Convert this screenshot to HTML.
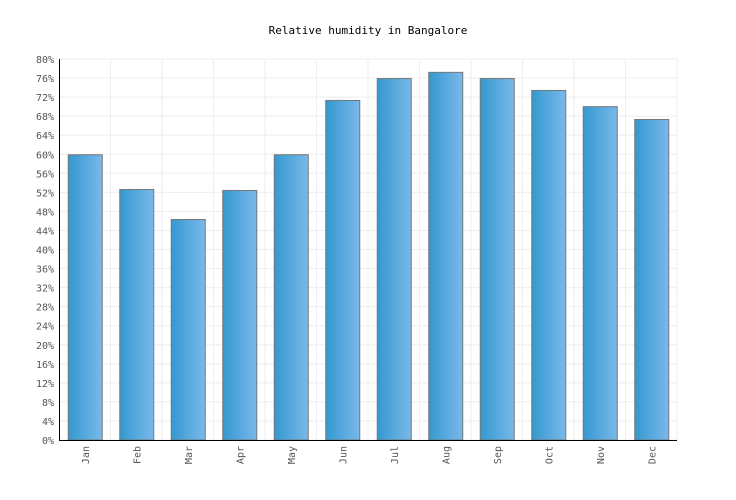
<!DOCTYPE html>
<html><head><meta charset="utf-8"><style>
body{margin:0;background:#fff;}
svg{display:block;font-family:"DejaVu Sans Mono","Liberation Mono",monospace;}
</style></head><body>
<svg id="chart" width="736" height="500" viewBox="0 0 736 500">
<defs><linearGradient id="bg" x1="0" x2="1" y1="0" y2="0"><stop offset="0" stop-color="#3399cf"/><stop offset="1" stop-color="#7ab8ea"/></linearGradient></defs>
<text x="368" y="34" text-anchor="middle" font-size="11" fill="#000">Relative humidity in Bangalore</text>
<g id="grid"></g><g id="bars"></g><g id="axes"></g>
</svg>
<script>
const months=["Jan","Feb","Mar","Apr","May","Jun","Jul","Aug","Sep","Oct","Nov","Dec"];
const humidity=[60,52.7,46.4,52.5,60,71.4,76,77.3,76,73.5,70.1,67.4];
const yTicks=[0,4,8,12,16,20,24,28,32,36,40,44,48,52,56,60,64,68,72,76,80];
const NS="http://www.w3.org/2000/svg";
const L=59,R=677,T=59,B=440,ymax=80;
const slot=(R-L)/months.length;
const y=v=>B-(v/ymax)*(B-T);
const x=i=>L+i*slot;
function mk(tag,attrs,parent){const e=document.createElementNS(NS,tag);for(const k in attrs)e.setAttribute(k,attrs[k]);parent.appendChild(e);return e;}
const grid=document.getElementById('grid'),bars=document.getElementById('bars'),axes=document.getElementById('axes');
yTicks.forEach(t=>{
  const g=mk('line',{x1:L,x2:R,y1:y(t),y2:y(t),stroke:'#eeeeee','stroke-width':1},grid);
  
  
  const lb=mk('text',{x:54,y:y(t)+4,'text-anchor':'end','font-size':10,fill:'#555'},axes);
  lb.textContent=t+'%';
  
  
});
for(let i=1;i<=months.length;i++){
  const g=mk('line',{x1:x(i),x2:x(i),y1:T,y2:B,stroke:'#eeeeee','stroke-width':1},grid);
  
  
}
months.forEach((m,i)=>{
  const bw=34,bx=x(i)+(slot-bw)/2;
  const r=mk('rect',{x:bx+0.5,y:y(humidity[i])+0.5,width:bw,height:B-y(humidity[i])-0.5,fill:'url(#bg)',stroke:'#777','stroke-width':1},bars);
  
  
  const cx=x(i)+slot/2;
  const t=mk('text',{x:0,y:0,transform:`translate(${cx+4},446) rotate(-90)`,'text-anchor':'end','font-size':10,fill:'#555'},axes);
  t.textContent=m;
  
  
});
const ya=mk('line',{x1:L+0.5,x2:L+0.5,y1:T,y2:B+0.5,stroke:'#000','stroke-width':1},axes);


const xa=mk('line',{x1:L,x2:R,y1:B+0.5,y2:B+0.5,stroke:'#000','stroke-width':1},axes);


</script>
</body></html>
